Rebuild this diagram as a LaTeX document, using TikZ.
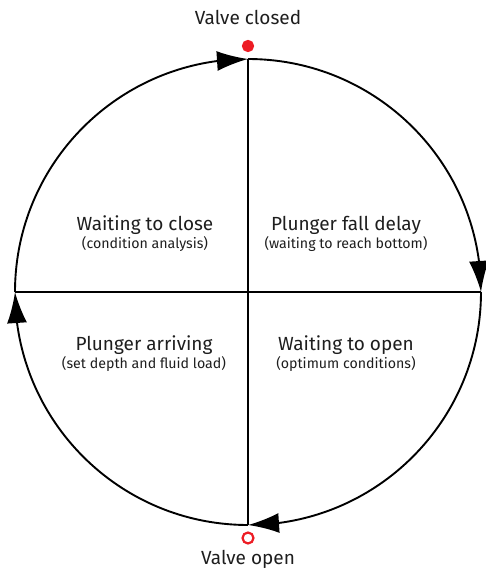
\documentclass[tikz,border=0pt]{standalone}
\usepackage{fontspec}
\setmainfont{Fira Sans}
\usetikzlibrary{arrows.meta, positioning, bending}
\definecolor{valvered}{RGB}{237,28,36}
\definecolor{ink}{RGB}{30,30,30}

\begin{document}
\begin{tikzpicture}[
    x=1pt, y=1pt,
    cycle/.style={line width=1.9pt, -{Latex[length=31pt,width=20pt,flex]}},
    divider/.style={line width=1.9pt},
    title/.style={anchor=base, text=ink, font=\fontsize{19}{22}\selectfont},
    note/.style={anchor=base, text=ink, font=\fontsize{14.2}{17}\selectfont},
    dot/.style={circle, draw=valvered, line width=2.2pt, minimum size=11pt, inner sep=0pt}
]
\useasboundingbox (-248,-276) rectangle (238,292);

% quadrant points of the cycle
\coordinate (top) at (0,233);
\coordinate (right) at (233,0);
\coordinate (bottom) at (0,-233);
\coordinate (left) at (-233,0);

\draw [divider] (top) -- (bottom);
\draw [divider] (left) -- (right);

\draw [cycle] (left) arc[start angle=180, end angle=90, radius=233pt];
\draw [cycle] (top) arc[start angle=90, end angle=0, radius=233pt];
\draw [cycle] (right) arc[start angle=0, end angle=-90, radius=233pt];
\draw [cycle] (bottom) arc[start angle=-90, end angle=-180, radius=233pt];

% valve states
\node [dot, fill=valvered, minimum size=10pt] (closed) at (0,246) {};
\node [dot, fill=white] (open) at (0,-246) {};
\node [title] (closedlabel) at (0,267) {Valve closed};
\node [title] (openlabel) at (0,-272) {Valve open};

% phases
\node [title] (waitclose) at (-103,62) {Waiting to close};
\node [note] (waitclosenote) at (-103,44) {(condition analysis)};
\node [title] (falldelay) at (98,62) {Plunger fall delay};
\node [note] (falldelaynote) at (98,44) {(waiting to reach bottom)};
\node [title] (arriving) at (-104,-58) {Plunger arriving};
\node [note] (arrivingnote) at (-104,-76) {(set depth and fluid load)};
\node [title] (waitopen) at (98,-58) {Waiting to open};
\node [note] (waitopennote) at (98,-76) {(optimum conditions)};
\end{tikzpicture}
\end{document}
